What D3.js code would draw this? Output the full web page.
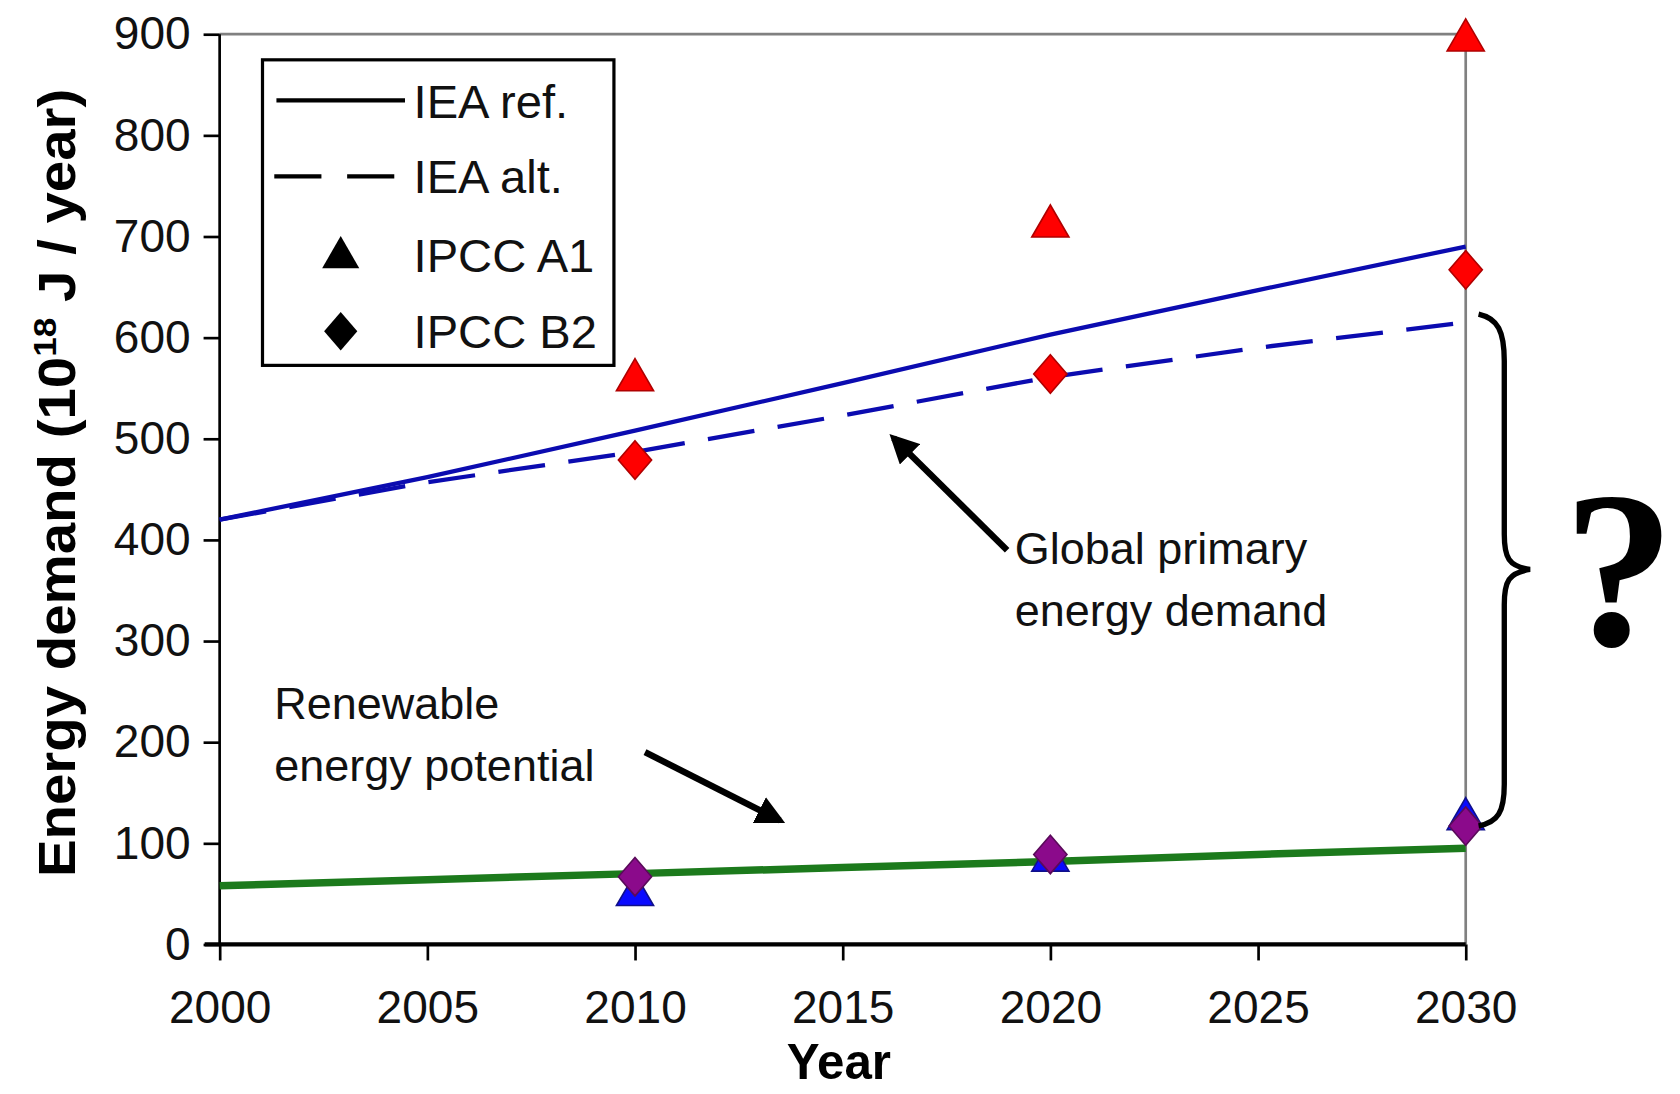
<!DOCTYPE html>
<html>
<head>
<meta charset="utf-8">
<script src="https://cdn.jsdelivr.net/npm/d3@7"></script>
<style>
  html, body { margin: 0; padding: 0; background: #fff; }
  svg { display: block; }
</style>
</head>
<body>
<div id="chart"></div>
<script>
// data
var years = [2000, 2005, 2010, 2015, 2020, 2025, 2030];
var ieaRef = [420, 462, 508, 555, 603, 647, 690];
var ieaAlt = [420, 457, 487, 523, 561, 590, 615];
var renewable = [58, 64, 70, 76, 82, 89, 95];

var ipccYears = [2010, 2020, 2030];
var a1Demand = [558, 710, 894];
var b2Demand = [479, 564, 667];
var a1Renew = [49, 83, 124];
var b2Renew = [67, 89, 117];

var xTicks = [2000, 2005, 2010, 2015, 2020, 2025, 2030];
var yTicks = [0, 100, 200, 300, 400, 500, 600, 700, 800, 900];

var SANS = '"Liberation Sans", Arial, sans-serif';

// drawing units (viewBox), stretched to the window
var W = 1568, H = 1024;
var margin = { top: 32, right: 200, bottom: 140, left: 205 };
var width = 1368 - margin.left,
    height = 884 - margin.top;

var svg = d3.select('#chart').append('svg')
    .attr('width', 1680)
    .attr('height', 1094)
    .attr('viewBox', '0 0 ' + W + ' ' + H)
    .attr('preserveAspectRatio', 'none')
    .attr('font-family', SANS);

var g = svg.append('g')
    .attr('transform', 'translate(' + margin.left + ',' + margin.top + ')');

var x = d3.scaleLinear().domain([2000, 2030]).range([0, width]);
var y = d3.scaleLinear().domain([0, 900]).range([height, 0]);

// grey frame top and right
g.append('line').attr('x1', 0).attr('x2', width).attr('y1', 0).attr('y2', 0)
    .attr('stroke', '#808080').attr('stroke-width', 2.5);
g.append('line').attr('x1', width).attr('x2', width).attr('y1', 0).attr('y2', height)
    .attr('stroke', '#808080').attr('stroke-width', 2.5);

// y axis
var yAxis = g.append('g')
    .call(d3.axisLeft(y).tickValues(yTicks).tickSize(15).tickPadding(12).tickFormat(d3.format('d')));
yAxis.select('.domain').attr('stroke', '#000').attr('stroke-width', 2.5).attr('d', 'M0,' + height + 'V0');
yAxis.selectAll('.tick line').attr('stroke', '#000').attr('stroke-width', 2.5);
yAxis.selectAll('.tick text').attr('font-size', 43).attr('fill', '#111')
    .attr('font-family', SANS);

// x axis
var xAxis = g.append('g')
    .attr('transform', 'translate(0,' + height + ')')
    .call(d3.axisBottom(x).tickValues(xTicks).tickSize(15).tickPadding(28).tickFormat(d3.format('d')));
xAxis.select('.domain').attr('stroke', '#000').attr('stroke-width', 4).attr('d', 'M-14,0H' + width);
xAxis.selectAll('.tick line').attr('stroke', '#000').attr('stroke-width', 2.5);
xAxis.selectAll('.tick text').attr('font-size', 43).attr('fill', '#111')
    .attr('font-family', SANS);

// axis titles
svg.append('text')
    .attr('x', 783).attr('y', 1010)
    .attr('text-anchor', 'middle')
    .attr('font-size', 46).attr('font-weight', 'bold')
    .text('Year');

var yt = svg.append('text')
    .attr('transform', 'translate(70,452) rotate(-90) scale(1.1,1)')
    .attr('text-anchor', 'middle')
    .attr('font-size', 48).attr('font-weight', 'bold');
yt.append('tspan').text('Energy demand (10');
yt.append('tspan').attr('font-size', 30).attr('dy', -18).text('18');
yt.append('tspan').attr('dy', 18).text(' J / year)');

// lines
var line = d3.line()
    .x(function(d, i) { return x(years[i]); })
    .y(function(d) { return y(d); });

g.append('path').datum(renewable)
    .attr('d', line).attr('fill', 'none')
    .attr('stroke', '#1c7a1c').attr('stroke-width', 7);

g.append('path').datum(ieaAlt)
    .attr('d', line).attr('fill', 'none')
    .attr('stroke', '#0b0bb0').attr('stroke-width', 4)
    .attr('stroke-dasharray', '44,22');

g.append('path').datum(ieaRef)
    .attr('d', line).attr('fill', 'none')
    .attr('stroke', '#0b0bb0').attr('stroke-width', 4);

// markers
var tri = d3.symbol().type(d3.symbolTriangle).size(520);
// squarer diamond than d3's default
var diamondType = {
    draw: function(ctx, size) {
        var w = 15.5, h = 18;
        ctx.moveTo(0, -h);
        ctx.lineTo(w, 0);
        ctx.lineTo(0, h);
        ctx.lineTo(-w, 0);
        ctx.closePath();
    }
};
var dia = d3.symbol().type(diamondType);

function markers(vals, sym, fill, stroke) {
    g.append('g').selectAll('path')
        .data(vals)
        .enter().append('path')
        .attr('d', sym)
        .attr('transform', function(d, i) {
            return 'translate(' + x(ipccYears[i]) + ',' + y(d) + ')';
        })
        .attr('fill', fill)
        .attr('stroke', stroke)
        .attr('stroke-width', 1.5);
}
markers(a1Renew, tri, '#0a0aff', '#10108a');
markers(b2Renew, dia, '#8b0a8b', '#5a0a5a');
markers(a1Demand, tri, '#ff0000', '#b00000');
markers(b2Demand, dia, '#ff0000', '#b00000');

// legend
var leg = svg.append('g');
leg.append('rect').attr('x', 245).attr('y', 56).attr('width', 328).attr('height', 286)
    .attr('fill', '#fff').attr('stroke', '#000').attr('stroke-width', 3);
var legNames = ['IEA ref.', 'IEA alt.', 'IPCC A1', 'IPCC B2'];
var legY = [94, 165, 239, 310];
leg.append('line').attr('x1', 258).attr('x2', 378).attr('y1', legY[0]).attr('y2', legY[0])
    .attr('stroke', '#000').attr('stroke-width', 4);
leg.append('line').attr('x1', 256).attr('x2', 370).attr('y1', legY[1]).attr('y2', legY[1])
    .attr('stroke', '#000').attr('stroke-width', 4).attr('stroke-dasharray', '44,24');
leg.append('path').attr('d', tri).attr('transform', 'translate(318,' + (legY[2] + 2) + ')');
leg.append('path').attr('d', dia).attr('transform', 'translate(318,' + legY[3] + ')');
leg.selectAll('text.lg').data(legNames).enter().append('text')
    .attr('class', 'lg')
    .attr('x', 386)
    .attr('y', function(d, i) { return legY[i] + 16; })
    .attr('font-size', 44).attr('fill', '#111')
    .text(function(d) { return d; });

// annotations
var defs = svg.append('defs');
defs.append('marker').attr('id', 'ah')
    .attr('viewBox', '0 0 10 10').attr('refX', 8).attr('refY', 5)
    .attr('markerWidth', 4.5).attr('markerHeight', 4.5)
    .attr('orient', 'auto')
    .append('path').attr('d', 'M0,0L10,5L0,10z').attr('fill', '#000');

svg.append('line').attr('x1', 940).attr('y1', 515).attr('x2', 834).attr('y2', 410)
    .attr('stroke', '#000').attr('stroke-width', 6).attr('marker-end', 'url(#ah)');
svg.append('line').attr('x1', 602).attr('y1', 704).attr('x2', 728).attr('y2', 768)
    .attr('stroke', '#000').attr('stroke-width', 6).attr('marker-end', 'url(#ah)');

function label(lines, x0, y0) {
    svg.selectAll(null).data(lines).enter().append('text')
        .attr('x', x0)
        .attr('y', function(d, i) { return y0 + i * 58; })
        .attr('font-size', 42).attr('fill', '#111')
        .text(function(d) { return d; });
}
label(['Global primary', 'energy demand'], 947, 528);
label(['Renewable', 'energy potential'], 256, 673);

// curly brace
svg.append('path')
    .attr('d', 'M1380,294 C1398,298 1404,310 1404,338 L1404,500 C1404,522 1408,530 1428,533 ' +
               'C1408,536 1404,544 1404,566 L1404,734 C1404,760 1398,770 1380,773')
    .attr('fill', 'none').attr('stroke', '#000').attr('stroke-width', 5);

svg.append('text')
    .attr('x', 1511).attr('y', 604)
    .attr('text-anchor', 'middle')
    .attr('font-family', '"Liberation Serif", "Times New Roman", serif')
    .attr('font-weight', 'bold')
    .attr('font-size', 208)
    .text('?');
</script>
</body>
</html>
